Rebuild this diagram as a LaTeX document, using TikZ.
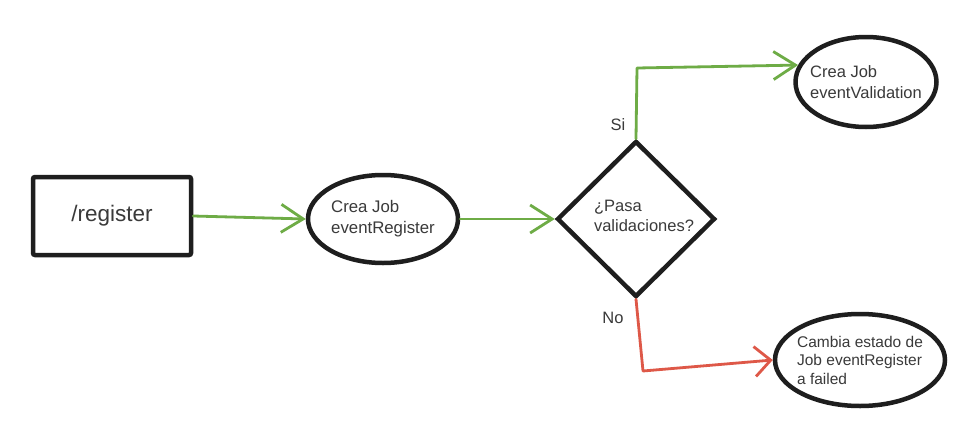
\documentclass[tikz,border=0pt]{standalone}
\usepackage{fontspec}
\setmainfont{Liberation Sans}
\usetikzlibrary{shapes.geometric,arrows.meta}
\definecolor{txt}{RGB}{58,58,58}
\definecolor{gline}{RGB}{110,172,70}
\definecolor{rline}{RGB}{222,88,72}
\definecolor{shape}{RGB}{30,30,30}
\tikzset{
  box/.style={draw=shape,line width=4.5pt,rounded corners=2pt,minimum width=158pt,minimum height=78pt,inner sep=0pt,text=txt,font=\fontsize{22.5}{26}\selectfont},
  oval/.style={draw=shape,line width=4.5pt,ellipse,inner sep=0pt,text=txt,align=left},
  dec/.style={draw=shape,line width=4.5pt,diamond,inner sep=0pt,minimum width=158pt,minimum height=156pt},
  lbl/.style={text=txt,font=\fontsize{16.5}{20}\selectfont,inner sep=0pt},
  gconn/.style={draw=gline,line width=2.8pt,line cap=round,line join=round,-{Straight Barb[length=22pt,width=28pt,line width=2.8pt]}},
  rconn/.style={draw=rline,line width=2.8pt,line cap=round,line join=round,-{Straight Barb[length=16pt,width=30pt,line width=2.8pt]}},
}
\begin{document}
\begin{tikzpicture}[x=1pt,y=-1pt]
\useasboundingbox[fill=white] (0,0) rectangle (956,426);
\node[box] (reg) at (112,216) {/register};
\node[oval,minimum width=150pt,minimum height=88pt,font=\fontsize{16.8}{21}\selectfont] (er) at (383,219) {Crea Job\\eventRegister};
\node[dec] (dia) at (636,219) {};
\node[text=txt,align=left,font=\fontsize{16.5}{19.5}\selectfont,inner sep=0pt] (dtxt) at (644,216) {¿Pasa\\validaciones?};
\node[oval,inner xsep=-9pt,minimum width=141pt,minimum height=90pt,font=\fontsize{16.5}{21}\selectfont] (val) at (866,82) {Crea Job\\eventValidation};
\node[oval,inner xsep=-4pt,minimum width=170pt,minimum height=92pt,font=\fontsize{15.5}{18.5}\selectfont] (fail) at (860,360) {Cambia estado de\\Job eventRegister\\a failed};
\node[lbl] (si) at (618,125) {Si};
\node[lbl] (no) at (613,318) {No};
\coordinate (vtop) at (637,68);
\coordinate (nbot) at (643,371);
\draw[gconn] (reg.east) -- (er.west);
\draw[gconn] (er.east) -- (dia.west);
\draw[gconn] (dia.north) -- (vtop) -- (val.166);
\draw[rconn] (dia.south) -- (nbot) -- (fail.west);
\end{tikzpicture}
\end{document}
